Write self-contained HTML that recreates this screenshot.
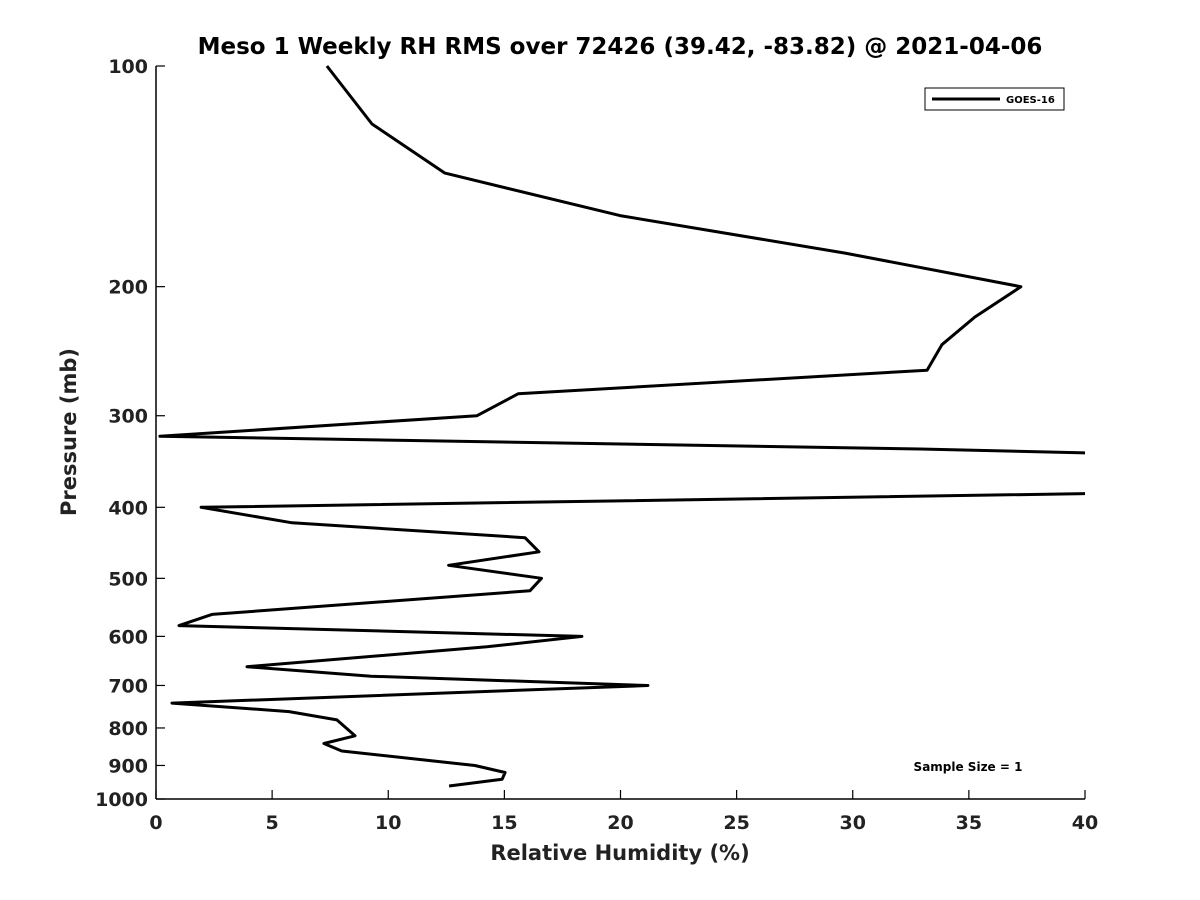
<!DOCTYPE html>
<html><head><meta charset="utf-8"><style>body{margin:0;background:#fff}svg{display:block;font-family:"DejaVu Sans","Liberation Sans",sans-serif}</style></head>
<body>
<svg id="chart" width="1200" height="900">
<defs><clipPath id="plotclip"><rect x="156" y="60" width="929" height="745"/></clipPath></defs>
<text x="620" y="54" text-anchor="middle" font-size="23" font-weight="bold" fill="#000">Meso 1 Weekly RH RMS over 72426 (39.42, -83.82) @ 2021-04-06</text>
<g id="axes"></g>
<path id="series" fill="none" stroke="#000" stroke-width="3" stroke-linejoin="round" clip-path="url(#plotclip)"/>
<g>
<rect x="925" y="88" width="139" height="22" fill="#fff" stroke="#000" stroke-width="1"/>
<line x1="932" y1="99" x2="1000" y2="99" stroke="#000" stroke-width="3"/>
<text x="1006" y="103" font-size="10" font-weight="bold">GOES-16</text>
</g>
<text x="968" y="771" text-anchor="middle" font-size="12" font-weight="bold">Sample Size = 1</text>
<text x="620" y="860" text-anchor="middle" font-size="21" font-weight="bold" fill="#222">Relative Humidity (%)</text>
<text transform="translate(76,432) rotate(-90)" text-anchor="middle" font-size="21" font-weight="bold" fill="#222">Pressure (mb)</text>
</svg>
<script>
const pressures=[100,120,140,160,180,200,220,240,260,280,300,320,333,340,380,400,420,440,460,480,500,520,560,580,600,620,660,680,700,740,760,780,820,840,860,900,920,940,960];
const rhValues=[7.36,9.3,12.44,19.98,29.67,37.24,35.26,33.84,33.2,15.59,13.82,0.17,32.9,45,47.3,1.94,5.86,15.89,16.49,12.6,16.6,16.1,2.41,0.99,18.34,14.25,3.92,9.26,21.18,0.69,5.73,7.79,8.57,7.23,8.0,13.73,15.03,14.9,12.62];
const xTicks=[0,5,10,15,20,25,30,35,40];
const yTicks=[100,200,300,400,500,600,700,800,900,1000];
const X0=156,X1=1085,Y0=66,Y1=799;
const xs=v=>X0+(v/40)*(X1-X0);
const ys=p=>Y0+(Math.log10(p)-2)*(Y1-Y0);
const NS='http://www.w3.org/2000/svg';
const axes=document.getElementById('axes');
function mk(t,a){const e=document.createElementNS(NS,t);for(const k in a)e.setAttribute(k,a[k]);axes.appendChild(e);return e;}
let l=mk('line',{x1:X0,y1:Y0,x2:X0,y2:Y1,stroke:'#000','stroke-width':1.5});


l=mk('line',{x1:X0,y1:Y1,x2:X1,y2:Y1,stroke:'#000','stroke-width':1.5});


xTicks.forEach(v=>{
 mk('line',{x1:xs(v),y1:Y1,x2:xs(v),y2:Y1-9,stroke:'#000','stroke-width':1.2});
 const t=mk('text',{x:xs(v),y:Y1+30,'text-anchor':'middle','font-size':19,'font-weight':'bold',fill:'#222'});
 t.textContent=v;
 
 
});
yTicks.forEach(p=>{
 mk('line',{x1:X0,y1:ys(p),x2:X0+9,y2:ys(p),stroke:'#000','stroke-width':1.2});
 const t=mk('text',{x:X0-8,y:ys(p)+7,'text-anchor':'end','font-size':19,'font-weight':'bold',fill:'#222'});
 t.textContent=p;
 
 
});
document.getElementById('series').setAttribute('d',pressures.map((p,i)=>(i?'L':'M')+xs(rhValues[i]).toFixed(1)+','+ys(p).toFixed(1)).join(''));
</script>
</body></html>
